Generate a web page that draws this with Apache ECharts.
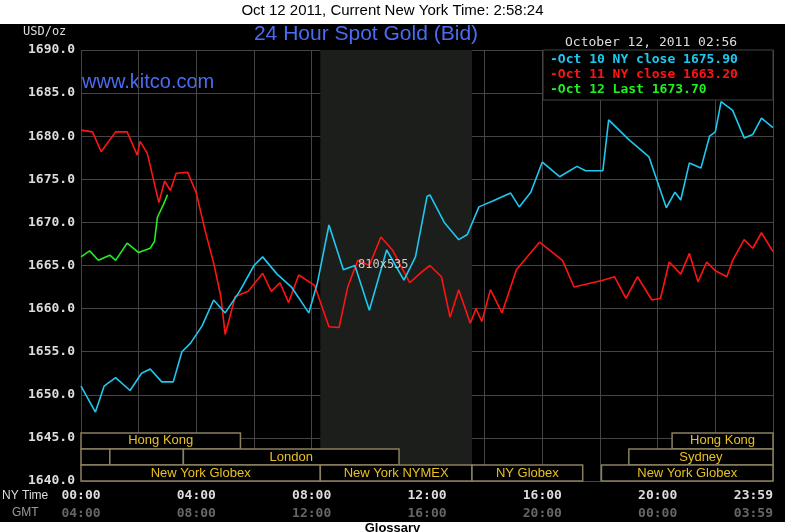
<!DOCTYPE html>
<html><head><meta charset="utf-8">
<script src="https://cdn.jsdelivr.net/npm/echarts@6/dist/echarts.min.js"></script>
<style>body{margin:0;background:#fff}#c{width:785px;height:532px}</style>
</head><body><div id="c"></div>
<script>
// Oct 10 NY close (cyan), [hour, price]
var oct10 = [[0,1651],[0.5,1648],[0.8,1651],[1.2,1652],[1.7,1650.5],[2.1,1652.5],[2.4,1653],[2.8,1651.5],[3.2,1651.5],[3.5,1655],[3.8,1656],[4.2,1658],[4.6,1661],[5,1659.5],[5.5,1662],[6,1665],[6.3,1666],[6.8,1664],[7.3,1662.5],[7.9,1659.5],[8.2,1663],[8.6,1669.7],[9.1,1664.5],[9.5,1665],[10,1659.8],[10.6,1666.8],[11.2,1663.3],[11.6,1666],[12,1673],[12.1,1673.2],[12.6,1670],[13.1,1668],[13.4,1668.6],[13.8,1671.8],[14.3,1672.5],[14.9,1673.4],[15.2,1671.8],[15.6,1673.5],[16,1677],[16.6,1675.3],[17.2,1676.5],[17.5,1676],[18.1,1676],[18.3,1681.9],[19,1679.6],[19.7,1677.6],[20.3,1671.7],[20.6,1673.5],[20.8,1672.6],[21.1,1676.9],[21.5,1676.3],[21.8,1680],[22,1680.5],[22.2,1684],[22.6,1683],[23,1679.8],[23.3,1680.2],[23.6,1682.1],[24,1681]];
// Oct 11 NY close (red)
var oct11 = [[0,1680.7],[0.4,1680.5],[0.7,1678.2],[1.2,1680.5],[1.6,1680.5],[1.95,1677.8],[2.05,1679.4],[2.3,1678],[2.7,1672.3],[2.9,1674.8],[3.1,1673.7],[3.3,1675.7],[3.7,1675.8],[4,1673.4],[4.3,1669.1],[4.6,1665.3],[4.85,1661.4],[5,1657],[5.35,1661.4],[5.8,1662],[6.3,1664.1],[6.6,1662],[6.9,1663],[7.2,1660.7],[7.55,1663.9],[8.1,1662.7],[8.6,1657.9],[8.95,1657.8],[9.25,1662.5],[9.6,1665.6],[10,1665],[10.4,1668.3],[10.8,1666.8],[11.4,1663],[11.8,1664.2],[12.1,1665],[12.5,1663.7],[12.8,1659],[13.1,1662.2],[13.5,1658.3],[13.7,1660],[13.9,1658.5],[14.2,1662.2],[14.6,1659.5],[15.1,1664.5],[15.9,1667.7],[16.7,1665.6],[17.1,1662.5],[18.1,1663.3],[18.5,1663.7],[18.9,1661.2],[19.3,1663.7],[19.8,1661],[20.1,1661.2],[20.4,1665.4],[20.8,1664],[21.1,1666.4],[21.4,1663.1],[21.7,1665.4],[22,1664.4],[22.4,1663.7],[22.6,1665.6],[23,1668],[23.3,1667],[23.6,1668.8],[24,1666.6]];
// Oct 12 last (green)
var oct12 = [[0,1666],[0.3,1666.7],[0.6,1665.6],[1,1666.2],[1.2,1665.6],[1.6,1667.6],[2,1666.5],[2.4,1667],[2.55,1667.8],[2.65,1670.6],[2.85,1672],[3,1673.2]];
// trading sessions: [start hour, end hour, row, label]
var sessions = [[0,5.53,2,'Hong Kong'],[20.5,24,2,'Hong Kong'],[0,1,1,''],[1,3.55,1,''],[3.55,11.03,1,'London'],[19,24,1,'Sydney'],[0,8.3,0,'New York Globex'],[8.3,13.56,0,'New York NYMEX'],[13.56,17.4,0,'NY Globex'],[18.05,24,0,'New York Globex']];
var nyTicks = ['00:00','04:00','08:00','12:00','16:00','20:00','23:59'];
var gmtTicks = ['04:00','08:00','12:00','16:00','20:00','00:00','03:59'];
var legendNames = ['Oct 10 NY close 1675.90','Oct 11 NY close 1663.20','Oct 12 Last 1673.70'];
var colors = ['#1ec8f0','#ff1414','#22ee22'];

var mono = 'DejaVu Sans Mono';
var sans = '"Liberation Sans", Arial';
var chart = echarts.init(document.getElementById('c'));
function tickFmt(list){
  return function(v){ return v % 4 === 0 ? list[v / 4] : ''; };
}
var rowH = 1.86;
chart.setOption({
  animation: false,
  graphic: [
    {type:'rect',shape:{x:0,y:24,width:785,height:498},style:{fill:'#000'},z:-10},
    {type:'text',left:'center',top:3,style:{text:'Oct 12 2011, Current New York Time: 2:58:24',font:'15px '+sans,fill:'#000'}},
    {type:'text',x:366,y:24,style:{text:'24 Hour Spot Gold (Bid)',font:'21px '+sans,fill:'#4b6cf2',textAlign:'center'}},
    {type:'text',x:82,y:72,style:{text:'www.kitco.com',font:'20px '+sans,fill:'#4b6cf2'}},
    {type:'text',x:23,y:26,style:{text:'USD/oz',font:'12px '+mono,fill:'#ddd'}},
    {type:'text',x:565,y:36,style:{text:'October 12, 2011 02:56',font:'13px '+mono,fill:'#ddd'}},
    {type:'rect',shape:{x:543,y:50,width:230,height:50},style:{fill:'#000',stroke:'#444'},z:50},
    {type:'text',x:550,y:53,z:51,style:{text:'-'+legendNames[0],font:'bold 13px '+mono,fill:colors[0]}},
    {type:'text',x:550,y:68,z:51,style:{text:'-'+legendNames[1],font:'bold 13px '+mono,fill:colors[1]}},
    {type:'text',x:550,y:83,z:51,style:{text:'-'+legendNames[2],font:'bold 13px '+mono,fill:colors[2]}},
    {type:'text',x:358,y:259,z:60,style:{text:'810x535',font:'12px '+mono,fill:'#ccc'}},
    {type:'text',x:2,y:490,style:{text:'NY Time',font:'12px '+sans,fill:'#ddd'}},
    {type:'text',x:12,y:507,style:{text:'GMT',font:'12px '+sans,fill:'#999'}},
    {type:'text',left:'center',top:522,style:{text:'Glossary',font:'bold 13px '+sans,fill:'#000'}}
  ],
  grid: {left: 81, right: 12, top: 50, bottom: 51, outerBoundsMode: 'none'},
  xAxis: [{
    type:'value', min:0, max:24, interval:2,
    axisLine:{show:false}, axisTick:{show:false},
    splitLine:{lineStyle:{color:'#444'}},
    axisLabel:{formatter:tickFmt(nyTicks),color:'#ddd',fontFamily:mono,fontWeight:'bold',fontSize:13,margin:8,alignMaxLabel:'right'}
  },{
    type:'value', min:0, max:24, interval:2, position:'bottom', offset:18,
    axisLine:{show:false}, axisTick:{show:false}, splitLine:{show:false},
    axisLabel:{formatter:tickFmt(gmtTicks),color:'#666',fontFamily:mono,fontWeight:'bold',fontSize:13,margin:8,alignMaxLabel:'right'}
  }],
  yAxis: {
    type:'value', min:1640, max:1690, interval:5,
    axisLine:{show:false}, axisTick:{show:false},
    splitLine:{lineStyle:{color:'#444'}},
    axisLabel:{formatter:function(v){return v.toFixed(1);},color:'#ddd',fontFamily:mono,fontWeight:'bold',fontSize:13,margin:6}
  },
  series: [
    {type:'line',data:oct10,showSymbol:false,lineStyle:{color:colors[0],width:1.6},z:5,
     markArea:{silent:true,itemStyle:{color:'#1b1e1b'},data:[[{xAxis:8.3},{xAxis:13.56}]]}},
    {type:'line',data:oct11,showSymbol:false,lineStyle:{color:colors[1],width:1.6},z:4},
    {type:'line',data:oct12,showSymbol:false,lineStyle:{color:colors[2],width:1.6},z:6},
    {type:'custom',data:sessions,z:3,renderItem:function(params,api){
      var y0 = 1640 + api.value(2)*rowH;
      var p0 = api.coord([api.value(0), y0 + rowH]);
      var p1 = api.coord([api.value(1), y0]);
      return {type:'group',children:[
        {type:'rect',shape:{x:p0[0],y:p0[1],width:p1[0]-p0[0],height:p1[1]-p0[1]},style:{fill:'#000',stroke:'#8a8060',lineWidth:1.5}},
        {type:'text',style:{text:sessions[params.dataIndex][3],x:(p0[0]+p1[0])/2,y:(p0[1]+p1[1])/2,textAlign:'center',textVerticalAlign:'middle',font:'13px '+sans,fill:'#e8c020'}}
      ]};
    }}
  ]
});
</script></body></html>
